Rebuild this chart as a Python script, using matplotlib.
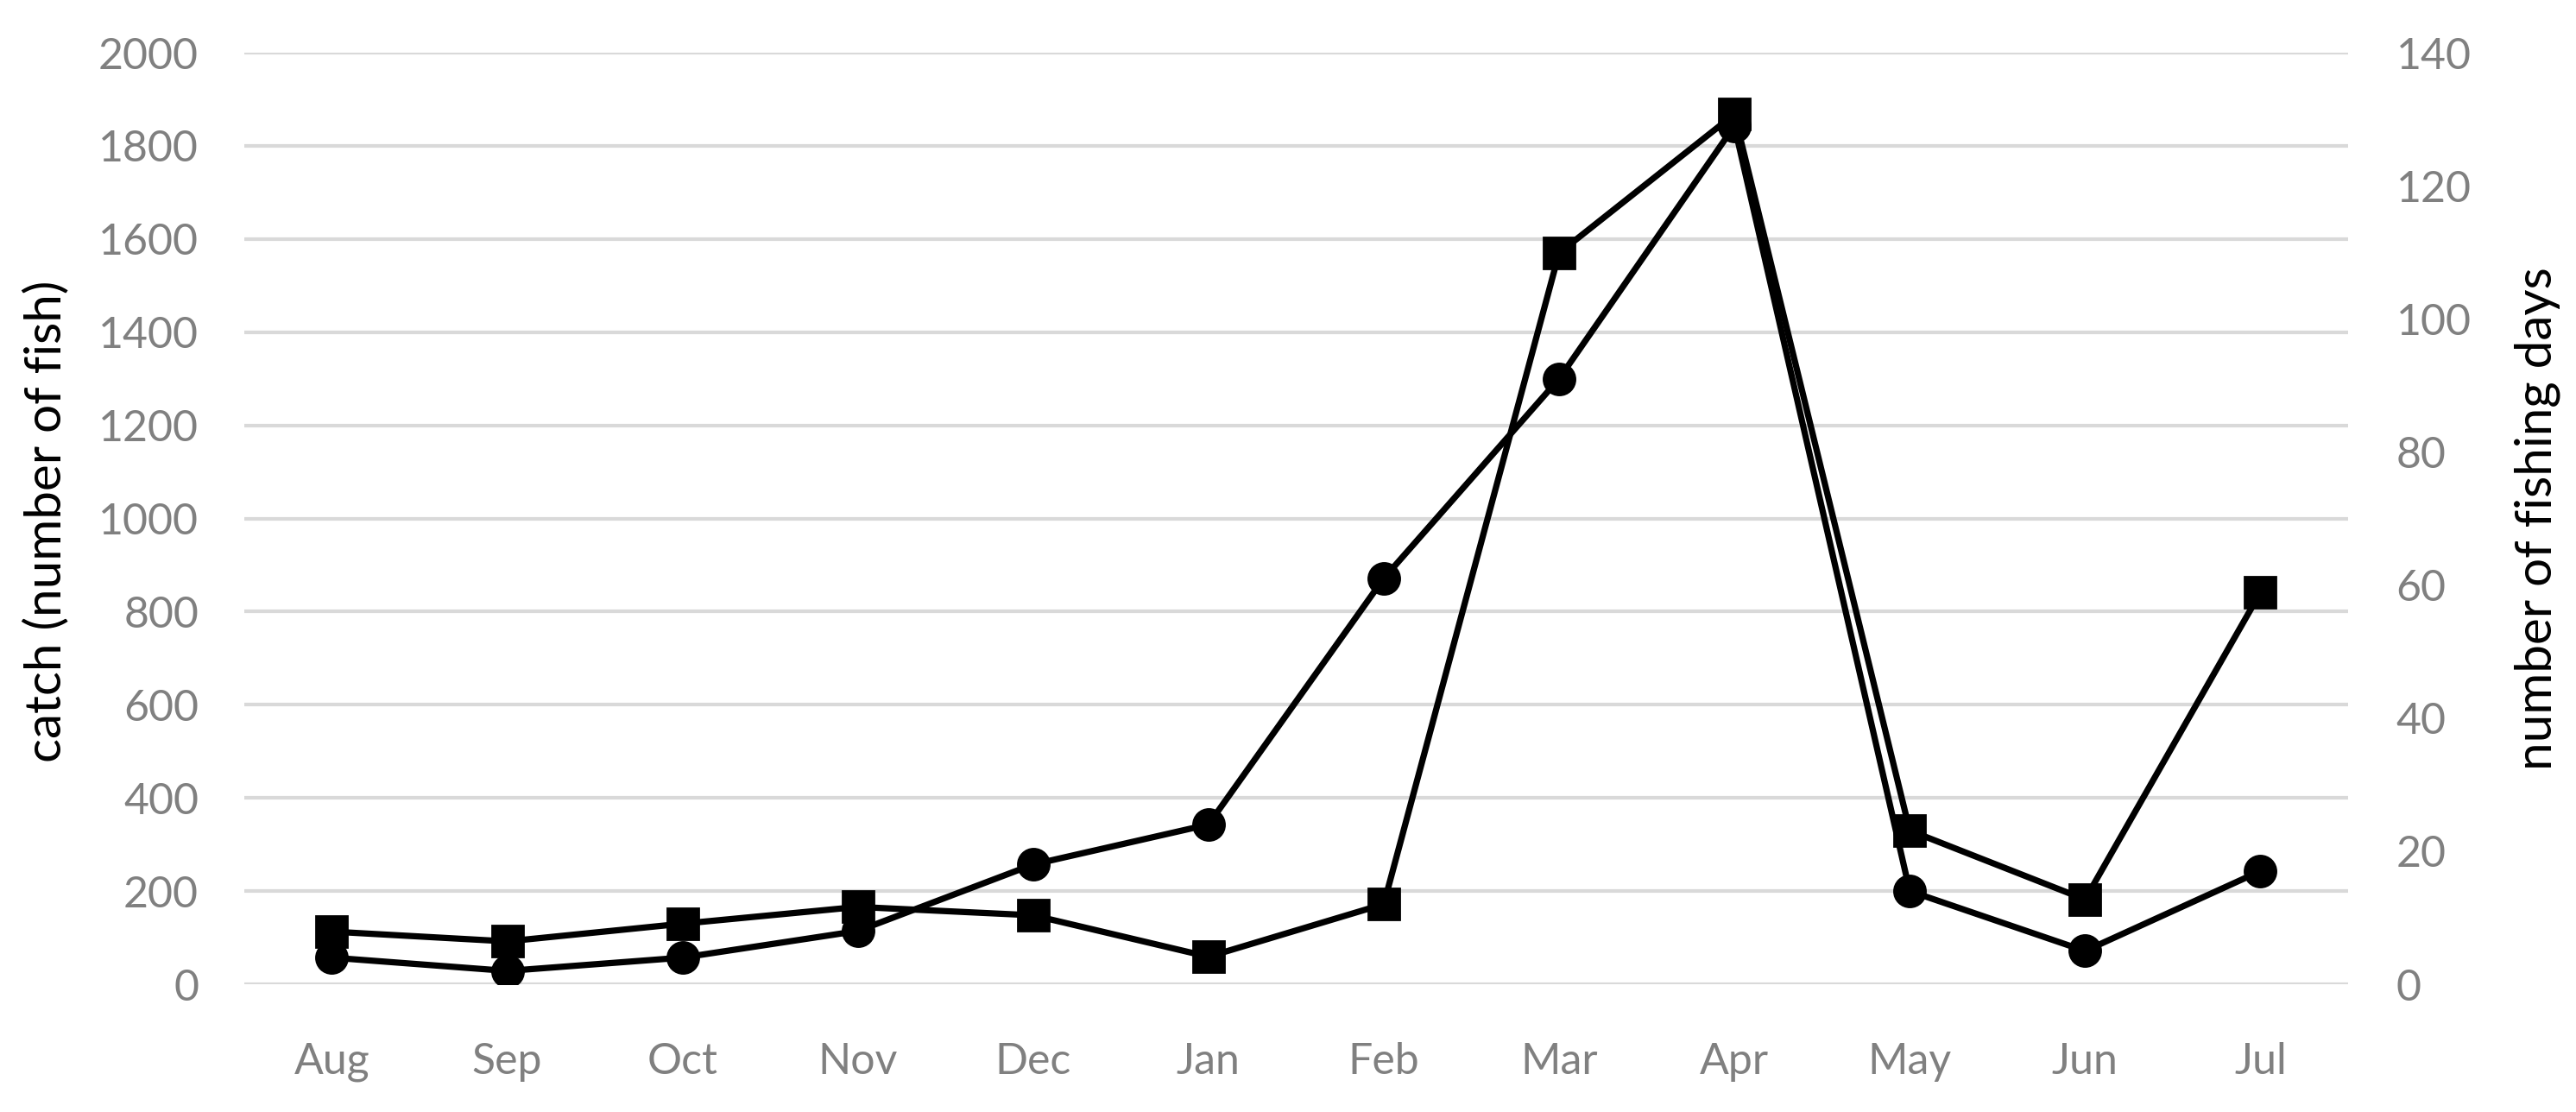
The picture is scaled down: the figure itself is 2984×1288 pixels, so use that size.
import matplotlib
matplotlib.use("Agg")
import matplotlib.pyplot as plt

# monthly values
months = ["Aug", "Sep", "Oct", "Nov", "Dec", "Jan", "Feb", "Mar", "Apr", "May", "Jun", "Jul"]
catch = [113, 92, 130, 166, 148, 59, 172, 1570, 1868, 330, 182, 841]
fishing_days = [4, 2, 4, 8, 18, 24, 61, 91, 129, 14, 5, 17]

catch_ticks = list(range(0, 2001, 200))
days_ticks = list(range(0, 141, 20))

plt.rcParams["font.family"] = ["Lato", "DejaVu Sans"]
GREY = "#808080"

fig = plt.figure(figsize=(14.92, 6.44), dpi=200)
ax = fig.add_axes([0.0948, 0.1149, 0.8167, 0.8377])
ax2 = ax.twinx()

x = list(range(len(months)))
ax.plot(x, catch, color="black", lw=2.6, marker="s", ms=13, zorder=3)
ax2.plot(x, fishing_days, color="black", lw=2.6, marker="o", ms=13, zorder=3)

ax.set_xlim(-0.5, len(months) - 0.5)
ax.set_ylim(0, 2000)
ax2.set_ylim(0, 140)
ax.set_yticks(catch_ticks)
ax2.set_yticks(days_ticks)
ax.set_xticks(x)
ax.set_xticklabels(months)

# light horizontal gridlines only, no spines or tick marks
ax.grid(axis="y", color="#d9d9d9", lw=1.5)
ax.set_axisbelow(True)
for a in (ax, ax2):
    for s in a.spines.values():
        s.set_visible(False)

ax.tick_params(axis="y", length=0, pad=19, labelsize=18, labelcolor=GREY)
ax.tick_params(axis="x", length=0, pad=24, labelsize=18, labelcolor=GREY)
ax2.tick_params(axis="y", length=0, pad=20, labelsize=18, labelcolor=GREY)

ax.set_ylabel("catch (number of fish)", fontsize=21, color="black")
ax.yaxis.set_label_coords(-0.083, 0.497)
ax2.set_ylabel("number of fishing days", fontsize=21, color="black", rotation=90)
ax2.yaxis.set_label_coords(1.079, 0.5)

fig.savefig("out.png", dpi=200)
